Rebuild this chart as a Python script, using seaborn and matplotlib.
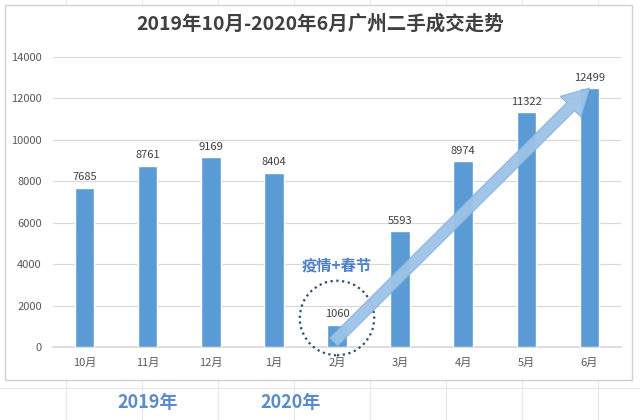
import matplotlib
matplotlib.use("Agg")
import matplotlib.pyplot as plt
import seaborn as sns
import pandas as pd
from matplotlib.patches import Rectangle, Ellipse

months = ["10月", "11月", "12月", "1月", "2月", "3月", "4月", "5月", "6月"]
deals = [7685, 8761, 9169, 8404, 1060, 5593, 8974, 11322, 12499]
year_labels = ["2019年", "2020年"]
title = "2019年10月-2020年6月广州二手成交走势"
note = "疫情+春节"

sns.set_theme(style="white")
plt.rcParams['font.family'] = ['Noto Sans CJK SC', 'DejaVu Sans']

fig = plt.figure(figsize=(6.4, 4.2), dpi=100)
fig.patch.set_facecolor("white")

# faint spreadsheet grid behind the chart box
for gx in range(-10, 700, 76):
    fig.add_artist(plt.Line2D([gx / 640, gx / 640], [0, 1], color="#E8E8E8", lw=0.8, zorder=0))
for gy in [388]:
    fig.add_artist(plt.Line2D([0, 1], [1 - gy / 420, 1 - gy / 420], color="#E8E8E8", lw=0.8, zorder=0))
fig.add_artist(Rectangle((5 / 640, 40 / 420), 627 / 640, 375 / 420, transform=fig.transFigure,
                         facecolor="white", edgecolor="#D0D0D0", lw=1.0, zorder=1))

ax = fig.add_axes([53 / 640, 73 / 420, 568 / 640, 290 / 420])
ax.set_zorder(2)
ax.patch.set_alpha(0)

df = pd.DataFrame({"month": months, "deals": deals})
sns.barplot(data=df, x="month", y="deals", color="#5B9BD5", width=0.31, saturation=1, ax=ax, zorder=3)
ax.bar_label(ax.containers[0], labels=[str(v) for v in deals], padding=4, fontsize=8, color="#404040")

ax.set_ylim(0, 14000)
ax.set_yticks(range(0, 14001, 2000))
ax.set_xlim(-0.5, len(months) - 0.5)
ax.yaxis.grid(True, color="#D9D9D9", lw=0.9)
ax.set_axisbelow(True)
for s in ["left", "right", "top"]:
    ax.spines[s].set_visible(False)
ax.spines["bottom"].set_color("#D9D9D9")
ax.tick_params(axis="both", length=0, labelsize=8, colors="#595959", pad=8)
ax.set_xlabel("")
ax.set_ylabel("")

i2 = months.index("2月")
ax.add_patch(Ellipse((i2, 1400), 1.18, 3600, fill=False, ls=(0, (1, 1.6)), lw=1.6,
                     edgecolor="#2E4B70", zorder=5, clip_on=False))
ax.text(i2, 3950, note, ha="center", va="center", fontsize=11, fontweight="bold", color="#4F81C7", zorder=6)

ax.annotate("", xy=(len(months) - 1, deals[-1]), xytext=(i2 - 0.05, 250),
            arrowprops=dict(arrowstyle="simple,tail_width=0.4,head_width=1.05,head_length=0.95",
                            mutation_scale=20, facecolor="#9DC3E6", edgecolor="#8DB3DF", lw=0.8,
                            alpha=0.95, shrinkA=0, shrinkB=0), zorder=6)

fig.text(0.5, 1 - 24 / 420, title, ha="center", va="center", fontsize=14, fontweight="bold", color="#404040", zorder=4)

ax.text(1.0, -0.19, year_labels[0], transform=ax.get_xaxis_transform(), ha="center", va="center",
        fontsize=13, fontweight="bold", color="#5B8BCB", clip_on=False)
ax.text(3.26, -0.19, year_labels[1], transform=ax.get_xaxis_transform(), ha="center", va="center",
        fontsize=13, fontweight="bold", color="#5B8BCB", clip_on=False)

fig.savefig("out.png", dpi=100)
